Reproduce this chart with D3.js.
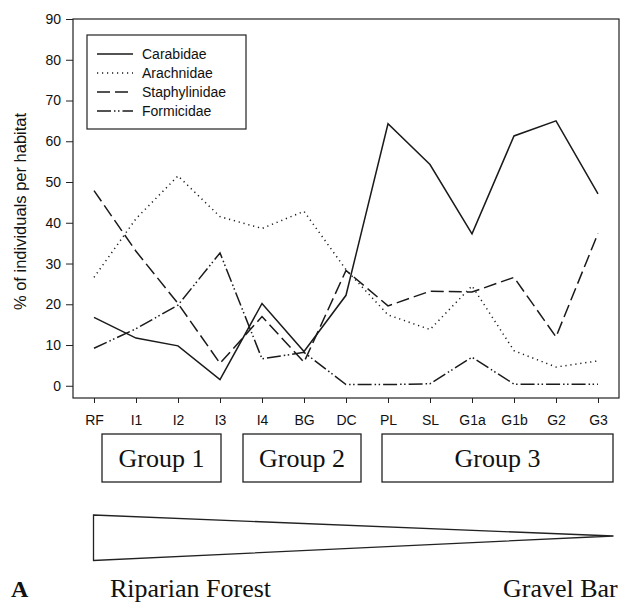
<!DOCTYPE html>
<html>
<head>
<meta charset="utf-8">
<script src="https://cdn.jsdelivr.net/npm/d3@7"></script>
<style>
  body { margin: 0; background: #fff; }
  svg { display: block; }
</style>
</head>
<body>
<div id="vis"></div>
<script>
// habitats along the gradient
const habitats = ["RF", "I1", "I2", "I3", "I4", "BG", "DC", "PL", "SL", "G1a", "G1b", "G2", "G3"];

// % of individuals per habitat
const carabidae     = [16.8, 11.7, 9.8, 1.5, 20.2, 8.4, 22.2, 64.3, 54.3, 37.3, 61.3, 65.0, 47.1];
const arachnidae    = [26.6, 41.0, 51.5, 41.5, 38.6, 42.8, 28.5, 17.4, 13.8, 24.5, 8.6, 4.6, 6.1];
const staphylinidae = [47.9, 33.0, 20.2, 5.5, 17.0, 5.8, 28.3, 19.6, 23.2, 23.0, 26.6, 12.0, 37.4];
const formicidae    = [9.2, 14.0, 19.8, 32.6, 6.6, 8.2, 0.3, 0.3, 0.5, 7.0, 0.4, 0.4, 0.4];

const yTicks = [0, 10, 20, 30, 40, 50, 60, 70, 80, 90];

const groupNames = ["Group 1", "Group 2", "Group 3"];

(function() {
    const width = 621
    const height = 604

    const svg = d3.select("#vis")
        .append("svg")
        .attr("width", width)
        .attr("height", height)

    const sans = "'Liberation Sans', Arial, Helvetica, sans-serif"
    const serif = "'Liberation Serif', 'Times New Roman', serif"

    // plot frame
    const left = 73, right = 619, top = 19, bottom = 398

    const x = d3.scalePoint()
        .domain(habitats)
        .range([left, right])
        .padding(0.5)

    const y = d3.scaleLinear()
        .domain([-3, 90])
        .range([bottom, top])

    const series = [
        { name: "Carabidae", values: carabidae, dash: null },
        { name: "Arachnidae", values: arachnidae, dash: "1.2,3.8" },
        { name: "Staphylinidae", values: staphylinidae, dash: "13,5" },
        { name: "Formicidae", values: formicidae, dash: "14,3,1.5,2.5,1.5,3" }
    ]

    // axes
    const yAxis = svg.append("g")
        .attr("transform", `translate(${left},0)`)
        .call(d3.axisLeft(y).tickValues(yTicks).tickSize(7).tickPadding(5).tickSizeOuter(0))
    yAxis.select(".domain").remove()

    const xAxis = svg.append("g")
        .attr("transform", `translate(0,${bottom})`)
        .call(d3.axisBottom(x).tickSize(5).tickPadding(12).tickSizeOuter(0))
    xAxis.select(".domain").remove()

    svg.selectAll(".tick line").attr("stroke", "#222").attr("stroke-width", 1)
    svg.selectAll(".tick text")
        .attr("fill", "#111")
        .style("font-family", sans)
        .style("font-size", "14px")

    svg.append("rect")
        .attr("x", left)
        .attr("y", top)
        .attr("width", right - left)
        .attr("height", bottom - top)
        .attr("fill", "none")
        .attr("stroke", "#222")
        .attr("stroke-width", 1.2)

    // y label
    svg.append("text")
        .attr("transform", `translate(26,${(top + bottom) / 2 + 3}) rotate(-90)`)
        .attr("text-anchor", "middle")
        .style("font-family", sans)
        .style("font-size", "16.5px")
        .attr("fill", "#111")
        .text("% of individuals per habitat")

    // lines
    const line = d3.line()
        .x((d, i) => x(habitats[i]))
        .y(d => y(d))

    svg.selectAll(".series")
        .data(series)
        .join("path")
        .attr("class", "series")
        .attr("d", d => line(d.values))
        .attr("fill", "none")
        .attr("stroke", "#1a1a1a")
        .attr("stroke-width", 1.5)
        .attr("stroke-dasharray", d => d.dash)

    // legend
    const legend = svg.append("g")
    legend.append("rect")
        .attr("x", 87)
        .attr("y", 35)
        .attr("width", 159)
        .attr("height", 94)
        .attr("fill", "#fff")
        .attr("stroke", "#222")
        .attr("stroke-width", 1.2)

    const items = legend.selectAll(".item")
        .data(series)
        .join("g")
        .attr("class", "item")
        .attr("transform", (d, i) => `translate(0,${54 + i * 19})`)

    items.append("line")
        .attr("x1", 97)
        .attr("x2", 133)
        .attr("stroke", "#1a1a1a")
        .attr("stroke-width", 1.5)
        .attr("stroke-dasharray", d => d.dash)

    items.append("text")
        .attr("x", 142)
        .attr("dy", "0.35em")
        .style("font-family", sans)
        .style("font-size", "14px")
        .attr("fill", "#111")
        .text(d => d.name)

    // habitat groups
    const groupBoxes = [[102, 221], [243, 361], [382, 613]]
    const boxes = svg.selectAll(".grp")
        .data(groupNames)
        .join("g")
        .attr("class", "grp")

    boxes.append("rect")
        .attr("x", (d, i) => groupBoxes[i][0])
        .attr("y", 434)
        .attr("width", (d, i) => groupBoxes[i][1] - groupBoxes[i][0])
        .attr("height", 48)
        .attr("fill", "none")
        .attr("stroke", "#222")
        .attr("stroke-width", 1.3)

    boxes.append("text")
        .attr("x", (d, i) => (groupBoxes[i][0] + groupBoxes[i][1]) / 2)
        .attr("y", 467)
        .attr("text-anchor", "middle")
        .style("font-family", serif)
        .style("font-size", "26px")
        .attr("fill", "#111")
        .text(d => d)

    // gradient wedge
    svg.append("path")
        .attr("d", "M93.5,515 L613.5,536 L93.5,560.5 Z")
        .attr("fill", "none")
        .attr("stroke", "#222")
        .attr("stroke-width", 1.3)

    svg.append("text")
        .attr("x", 11)
        .attr("y", 597)
        .style("font-family", serif)
        .style("font-size", "24px")
        .style("font-weight", "bold")
        .attr("fill", "#111")
        .text("A")

    svg.append("text")
        .attr("x", 110)
        .attr("y", 597)
        .style("font-family", serif)
        .style("font-size", "26px")
        .attr("fill", "#111")
        .text("Riparian Forest")

    svg.append("text")
        .attr("x", 503)
        .attr("y", 597)
        .style("font-family", serif)
        .style("font-size", "26px")
        .attr("fill", "#111")
        .text("Gravel Bar")
})();
</script>
</body>
</html>
